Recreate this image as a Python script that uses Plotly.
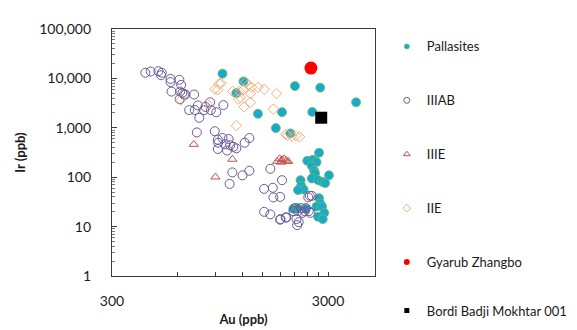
import plotly.graph_objects as go

# ---- data (Au ppb, Ir ppb) ----
pall_au = [974, 1218, 1129, 2109, 2761, 4046, 1422, 1837, 2537, 1720, 2008, 2726, 2405, 2552, 2655,
           2526, 2587, 2613, 3030, 2526, 2700, 2816, 2912, 2238, 2253, 2311, 2179, 2726, 2761, 2655,
           2816, 2884, 2700, 2836, 2072, 2167, 2367]
pall_ir = [12480, 8700, 5070, 7000, 6500, 3280, 1922, 2070, 2095, 987, 770, 313, 215, 225, 202,
           168, 135, 120, 109, 94, 87, 81, 76, 87, 67, 56.5, 54.8, 37.7, 29.4, 25.5,
           25.5, 19, 15.8, 14.2, 23, 23.7, 23]

iiiab_au = [428, 453, 492, 506, 510, 560, 560, 566, 615, 627, 620, 635, 646, 617, 656, 720, 683, 725,
            749, 761, 800, 813, 854, 860, 912, 984, 741, 897, 927, 930, 927, 974, 1007, 1023, 1040,
            1057, 1093, 1129, 1234, 1297, 1082, 1051, 1206, 1297, 1622, 1837, 1518, 1665, 1676, 1801,
            1518, 1622, 1801, 1924, 2109, 2180, 2253, 2290, 2367, 2445, 2486, 2144, 2194, 2158, 2430,
            2527, 2343, 2075, 2470, 1809, 1911]
iiiab_ir = [13000, 13800, 14000, 11600, 13000, 9770, 8430, 5400, 9340, 7390, 5400, 5080, 4720, 3800,
            4720, 4720, 2285, 2285, 2840, 1592, 2285, 2640, 3290, 2285, 2065, 2880, 805, 853, 575, 499,
            373, 620, 464, 347, 593, 444, 413, 384, 499, 620, 125, 73, 109, 135, 148, 87, 58, 61, 39,
            40, 19.9, 17.7, 13.8, 15.3, 23.7, 20.5, 23.7, 19, 23.7, 20.5, 19, 14.2, 12.3, 10.7, 39,
            42, 20.5, 20.5, 42, 14.2, 15.3]

iiie_au = [717, 903, 1082, 1744, 1789, 1837, 1880, 1924, 1962, 1820]
iiie_ir = [463, 101, 231, 209, 235, 225, 235, 215, 209, 202]

iie_au = [897, 942, 927, 960, 1086, 1167, 1247, 1279, 1218, 1331, 1422, 1519, 1310, 1179, 1156, 1310,
          1226, 1732, 1676, 1129, 826, 625, 1911, 1949, 2048, 2130, 2216]
iie_ir = [6040, 7840, 5880, 8000, 5460, 5460, 8440, 7310, 5880, 6590, 6590, 6040, 4940, 4080, 3800,
          3280, 2640, 4940, 2390, 1105, 3060, 3640, 738, 706, 676, 690, 656]

gyarub_au = [2500]
gyarub_ir = [16200]

bordi_au = [2790]
bordi_ir = [1600]

x_major = [300, 3000]
x_major_text = ["300", "3000"]
x_minor = [600, 900, 1200, 1500, 1800, 2100, 2400, 2700]
y_major = [1, 10, 100, 1000, 10000, 100000]
y_major_text = ["1", "10", "100", "1,000", "10,000", "100,000"]
y_minor = [m * 10 ** d for d in range(5) for m in range(2, 10)]

series = [
    ("Pallasites", pall_au, pall_ir, dict(symbol="circle", size=9, color="#19a9cc",
                                          line=dict(color="#6cbf5a", width=0.8)), 5, "legend"),
    ("IIIAB", iiiab_au, iiiab_ir, dict(symbol="circle-open", size=9, color="#6a5a9a",
                                       line=dict(width=1)), 6, "legend"),
    ("IIIE", iiie_au, iiie_ir, dict(symbol="triangle-up-open", size=8, color="#c0504d",
                                    line=dict(width=1)), 6, "legend"),
    ("IIE", iie_au, iie_ir, dict(symbol="diamond-open", size=8, color="#f2ad7c",
                                 line=dict(width=1)), 6, "legend"),
    ("Gyarub Zhangbo", gyarub_au, gyarub_ir, dict(symbol="circle", size=13, color="#ff0000"), 6, "legend"),
    ("Bordi Badji Mokhtar 001", bordi_au, bordi_ir, dict(symbol="square", size=12, color="#000000"), 5, "legend2"),
]

fig = go.Figure()
for i, (name, xs, ys, mk, lsize, lg) in enumerate(series):
    fig.add_trace(go.Scatter(x=xs, y=ys, mode="markers", marker=mk, name=name,
                             showlegend=False, hoverinfo="x+y+name"))
for i, (name, xs, ys, mk, lsize, lg) in enumerate(series):
    lm = dict(mk)
    lm["size"] = lsize
    fig.add_trace(go.Scatter(x=[None], y=[None], mode="markers", marker=lm, name=name,
                             legendgroup=f"g{i}", showlegend=True, legend=lg))

font_family = "Lato, 'Open Sans', sans-serif"
axis_line = "#3a3a3a"

fig.update_layout(
    width=577, height=330,
    margin=dict(l=102, r=190, t=13, b=52),
    paper_bgcolor="white", plot_bgcolor="white",
    font=dict(family=font_family, size=13, color="#1a1a1a"),
    legend=dict(x=1.045, xanchor="left", y=0.99, yanchor="top",
                tracegroupgap=34, font=dict(size=13, color="#1a1a1a"),
                bgcolor="rgba(0,0,0,0)", borderwidth=0),
    legend2=dict(x=1.045, xanchor="left", y=-0.14, yanchor="middle",
                 font=dict(size=13, color="#1a1a1a"),
                 bgcolor="rgba(0,0,0,0)", borderwidth=0),
    xaxis=dict(type="log", range=[2.4771, 3.6946],
               tickvals=x_major, ticktext=x_major_text,
               ticks="inside", ticklen=4, tickcolor=axis_line, tickwidth=1,
               ticklabelstandoff=12,
               minor=dict(tickvals=x_minor, ticks="inside", ticklen=4, tickcolor=axis_line),
               showgrid=False, zeroline=False,
               showline=True, linecolor=axis_line, linewidth=1.2, mirror=True,
               title=dict(text="<b>Au (ppb)</b>", font=dict(size=13), standoff=6),
               tickfont=dict(size=14)),
    yaxis=dict(type="log", range=[0, 5],
               tickvals=y_major, ticktext=y_major_text,
               ticks="inside", ticklen=5, tickcolor=axis_line, tickwidth=1,
               ticklabelstandoff=17,
               minor=dict(tickvals=y_minor, ticks="inside", ticklen=3, tickcolor="#777777"),
               showgrid=False, zeroline=False,
               showline=True, linecolor=axis_line, linewidth=1.2, mirror=True,
               title=dict(text="<b>Ir (ppb)</b>", font=dict(size=13), standoff=10),
               tickfont=dict(size=14)),
)

fig.write_html("out.html")
